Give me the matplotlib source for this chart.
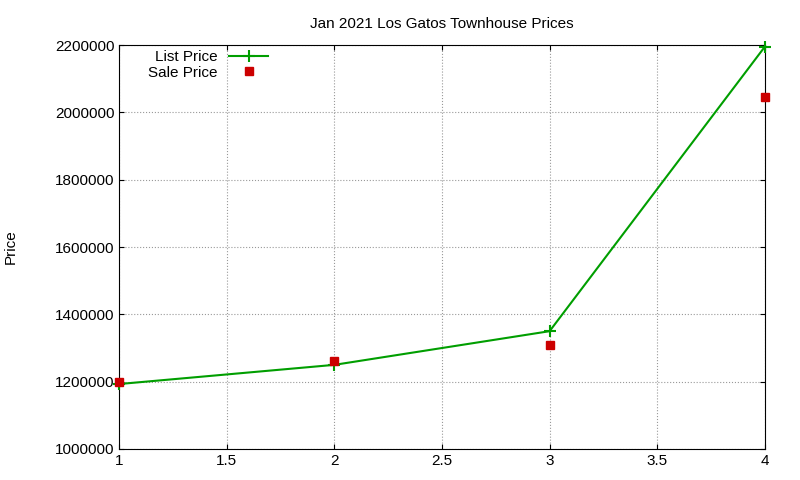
import matplotlib
matplotlib.use("Agg")
import matplotlib.pyplot as plt

x = [1, 2, 3, 4]
list_price = [1193000, 1250000, 1350000, 2195000]
sale_price = [1200000, 1261000, 1309000, 2045000]
yticks = [1000000, 1200000, 1400000, 1600000, 1800000, 2000000, 2200000]
xticks = [1, 1.5, 2, 2.5, 3, 3.5, 4]

plt.rcParams['font.family'] = ['Liberation Sans', 'DejaVu Sans']
fig = plt.figure(figsize=(8, 4.8), dpi=100)
ax = fig.add_axes([0.149, 0.0646, 0.807, 0.8415])
ax.plot(x, list_price, color='#009e00', lw=1.5, marker='+', ms=8, mew=1.5, label='List Price', clip_on=False, zorder=3)
ax.plot(x, sale_price, ls='none', marker='s', ms=6, color='#cc0000', label='Sale Price', clip_on=False, zorder=3)
ax.set_xlim(1, 4)
ax.set_ylim(1000000, 2200000)
ax.set_xticks(xticks)
ax.set_xticklabels(['1', '1.5', '2', '2.5', '3', '3.5', '4'])
ax.set_yticks(yticks)
ax.set_yticklabels([str(v) for v in yticks])
ax.grid(True, color='#999999', ls=':', lw=0.8)
ax.tick_params(direction='in', labelsize=11, top=True, right=True)
ax.set_ylabel('Price', fontsize=11, labelpad=27)
ax.set_title('Jan 2021 Los Gatos Townhouse Prices', fontsize=11, pad=12)
ax.legend(loc='upper left', bbox_to_anchor=(0.03, 1.01), frameon=False, markerfirst=False,
          fontsize=11, handlelength=2.5, labelspacing=0.1, borderaxespad=0.2)
fig.savefig('out.png')
